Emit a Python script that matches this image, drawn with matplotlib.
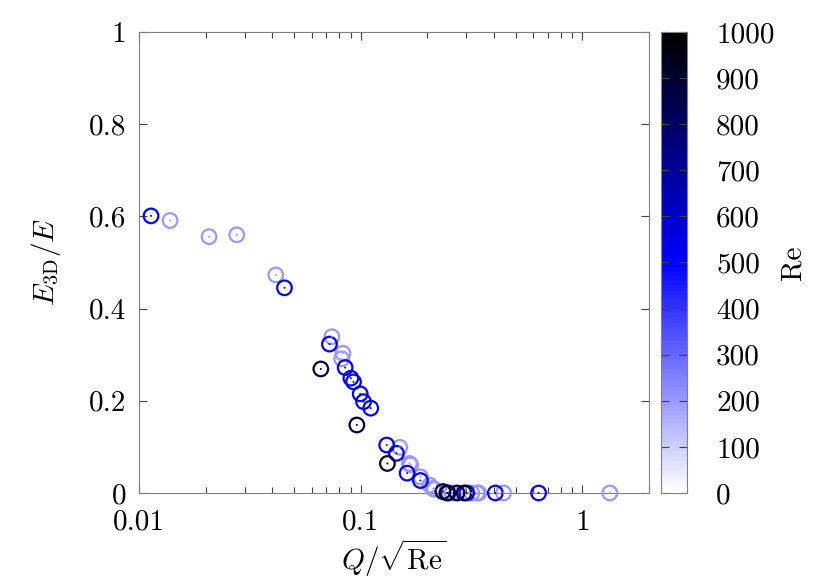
import numpy as np
import matplotlib
matplotlib.use("Agg")
import matplotlib.pyplot as plt
from matplotlib.colors import LinearSegmentedColormap, Normalize
from matplotlib.ticker import FixedLocator, FixedFormatter, LogLocator, NullFormatter

plt.rcParams.update({
    "font.family": "serif",
    "font.serif": ["cmr10"],
    "mathtext.fontset": "cm",
    "axes.formatter.use_mathtext": True,
    "font.size": 21,
})

# Q/sqrt(Re), E3D/E and Re of every run
q_light = [0.0138, 0.0207, 0.0276, 0.0414, 0.0741, 0.0831, 0.0821, 0.150, 0.166, 0.168,
           0.186, 0.205, 0.212, 0.215, 0.258, 0.317, 0.335, 0.341, 0.441, 1.33]
e_light = [0.591, 0.556, 0.560, 0.473, 0.339, 0.303, 0.291, 0.099, 0.064, 0.061,
           0.035, 0.017, 0.010, 0.008, 0.0, 0.0, 0.0, 0.0, 0.0, 0.0]
q_blue = [0.01133, 0.0453, 0.0723, 0.0851, 0.0903, 0.0928, 0.0995, 0.103, 0.111,
          0.131, 0.145, 0.162, 0.186, 0.248, 0.301, 0.405, 0.635]
e_blue = [0.601, 0.445, 0.323, 0.272, 0.249, 0.241, 0.215, 0.198, 0.184,
          0.104, 0.086, 0.043, 0.027, 0.0, 0.0, 0.0, 0.0]
q_dark = [0.0661, 0.0961, 0.132, 0.235, 0.245, 0.272, 0.293]
e_dark = [0.269, 0.1475, 0.064, 0.003, 0.0, 0.0, 0.0]

re_light, re_blue, re_dark = 200, 500, 880

q = np.array(q_light + q_blue + q_dark)
e = np.array(e_light + e_blue + e_dark)
re = np.array([re_light] * len(q_light) + [re_blue] * len(q_blue) + [re_dark] * len(q_dark))

cmap = LinearSegmentedColormap.from_list("wbk", [(0, "white"), (0.5, "#0000ff"), (1, "black")], N=100)
norm = Normalize(0, 1000)

fig = plt.figure(figsize=(8.3, 5.81), dpi=100)
ax = fig.add_axes([0.1675, 0.1515, 0.6145, 0.7935])
cax = fig.add_axes([0.7964, 0.1515, 0.0313, 0.7935])

sc = ax.scatter(q, e, c=re, cmap=cmap, norm=norm, marker="o", s=110,
                facecolors="none", linewidths=1.6, clip_on=False, zorder=3)
sc.set_facecolor("none")
sc.set_edgecolors(cmap(norm(re)))
ax.scatter(q, e, c=re, cmap=cmap, norm=norm, marker="o", s=2, linewidths=0,
           clip_on=False, zorder=4)

ax.set_xscale("log")
ax.set_xlim(0.01, 2)
ax.set_ylim(0, 1)
ax.xaxis.set_major_locator(FixedLocator([0.01, 0.1, 1]))
ax.xaxis.set_major_formatter(FixedFormatter(["0.01", "0.1", "1"]))
ax.xaxis.set_minor_locator(LogLocator(base=10, subs=np.arange(2, 10)))
ax.xaxis.set_minor_formatter(NullFormatter())
ax.set_yticks([0, 0.2, 0.4, 0.6, 0.8, 1])
ax.set_yticklabels(["0", "0.2", "0.4", "0.6", "0.8", "1"])
ax.tick_params(which="both", direction="in", top=True, right=True, color="#404040")
ax.tick_params(which="major", length=6, width=0.8)
ax.tick_params(axis="y", which="major", pad=9)
ax.tick_params(axis="x", which="major", pad=12)
ax.tick_params(which="minor", length=4, width=0.8)
for s in ax.spines.values():
    s.set_color("#808080")
ax.set_xlabel(r"$Q/\sqrt{\mathrm{Re}}$", labelpad=1)
ax.set_ylabel(r"$E_{\mathrm{3D}}/E$", labelpad=19)

cb = fig.colorbar(plt.cm.ScalarMappable(norm=norm, cmap=cmap), cax=cax)
cb.set_ticks(np.arange(0, 1001, 100))
cb.set_ticklabels([str(v) for v in range(0, 1001, 100)])
cb.ax.tick_params(direction="in", length=6, width=0.8, left=True, right=True, color="#404040", pad=21)
cb.outline.set_edgecolor("#808080")
cb.set_label("Re", labelpad=4)

fig.savefig("out.png", dpi=100)
